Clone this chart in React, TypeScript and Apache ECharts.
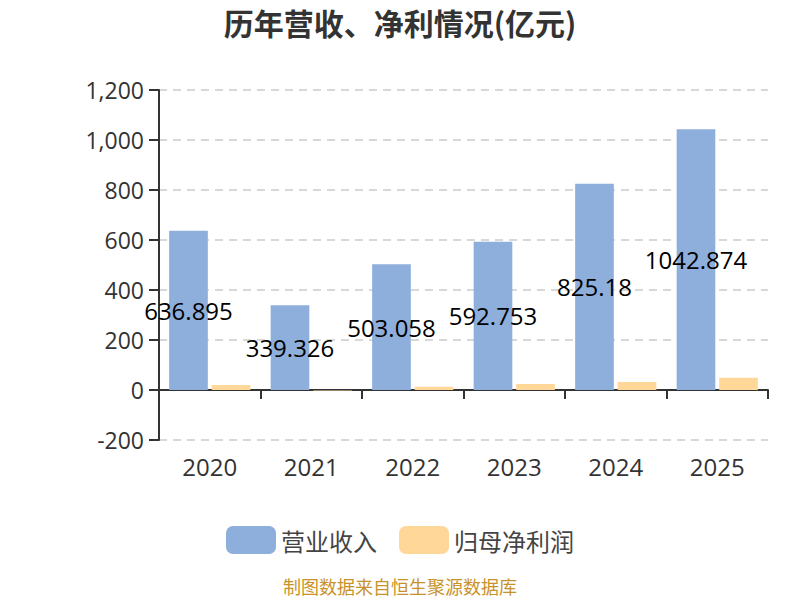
import { useEffect, useRef } from "react";
import * as echarts from "echarts";

const years = ["2020", "2021", "2022", "2023", "2024", "2025"];
const revenue = [636.895, 339.326, 503.058, 592.753, 825.18, 1042.874];
const netProfit = [20, -2, 13, 24, 32, 49];

const FONT = '"Open Sans", "Noto Sans CJK SC", sans-serif';
const CJK = '"Noto Sans CJK SC", sans-serif';

export default function App(): JSX.Element {
  const chartRef = useRef<HTMLDivElement>(null);

  useEffect(() => {
    document.body.style.margin = "0";
    const myChart = echarts.init(chartRef.current, undefined, { renderer: "svg" });
    const option = {
      animation: false,
      textStyle: { fontFamily: FONT },
      title: [
        {
          text: "历年营收、净利情况(亿元)",
          left: "center",
          top: 2,
          textStyle: { fontSize: 30, fontWeight: "bold", color: "#333", fontFamily: CJK }
        },
        {
          text: "制图数据来自恒生聚源数据库",
          left: "center",
          bottom: 0,
          textStyle: { fontSize: 18, fontWeight: "normal", color: "#c8922b", fontFamily: CJK }
        }
      ],
      legend: {
        data: ["营业收入", "归母净利润"],
        top: 521,
        left: "center",
        icon: "roundRect",
        itemWidth: 50,
        itemHeight: 28,
        itemGap: 22,
        textStyle: { fontSize: 24, color: "#444", fontFamily: CJK }
      },
      grid: {
        left: 159,
        right: 32,
        top: 90,
        bottom: 160
      },
      xAxis: {
        type: "category",
        data: years,
        axisLine: { onZero: true, lineStyle: { color: "#333", width: 2 } },
        axisTick: { show: true, length: 9, lineStyle: { color: "#333", width: 2 } },
        axisLabel: { margin: 14, fontSize: 24, color: "#333", fontFamily: FONT }
      },
      yAxis: {
        type: "value",
        min: -200,
        max: 1200,
        interval: 200,
        axisLine: { show: true, lineStyle: { color: "#333", width: 2 } },
        axisTick: { show: true, length: 10, lineStyle: { color: "#333", width: 2 } },
        axisLabel: { fontSize: 23, color: "#333", margin: 15, fontFamily: FONT },
        splitLine: { lineStyle: { type: [8, 6], color: "#ccc", width: 1.5 } }
      },
      series: [
        {
          name: "营业收入",
          type: "bar",
          data: revenue,
          barGap: "10%",
          barCategoryGap: "20%",
          itemStyle: { color: "#8eaedb" },
          label: {
            show: true,
            position: "inside",
            fontSize: 24,
            color: "#000",
            fontFamily: FONT
          }
        },
        {
          name: "归母净利润",
          type: "bar",
          data: netProfit,
          barGap: "10%",
          barCategoryGap: "20%",
          itemStyle: { color: "#ffd899" }
        }
      ]
    };
    myChart.setOption(option);
    return () => {
      myChart.dispose();
    };
  }, []);

  return <div ref={chartRef} style={{ width: 800, height: 600 }}></div>;
}
